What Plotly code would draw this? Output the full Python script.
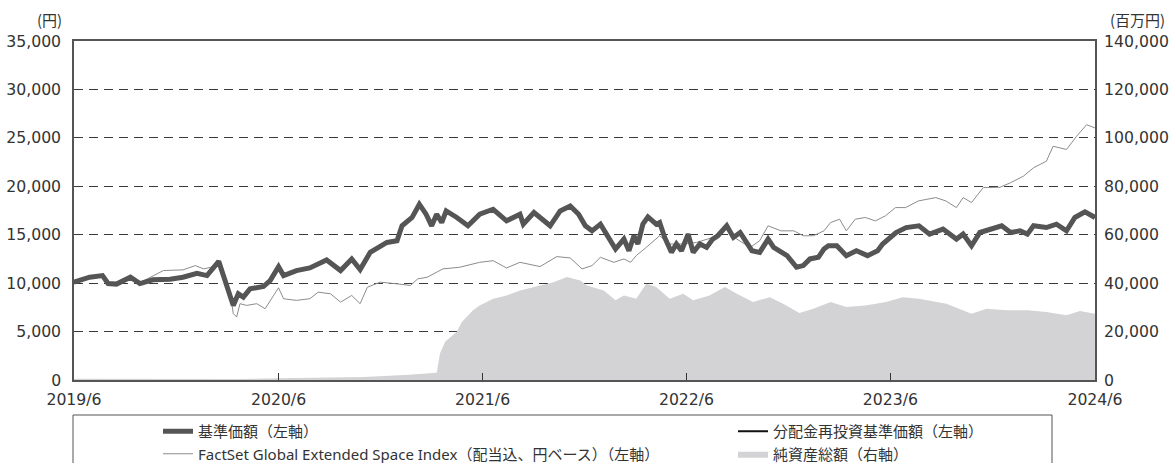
import plotly.graph_objects as go

# 基準価額 (= 分配金再投資基準価額, overlapping)
nav_dates = ["2019-06-01","2019-06-29","2019-07-22","2019-08-01","2019-08-16","2019-09-10","2019-09-27","2019-10-20","2019-11-20","2019-12-13",
"2020-01-07","2020-01-25","2020-02-15","2020-02-24","2020-03-03","2020-03-12","2020-03-21","2020-03-30","2020-04-11","2020-05-05",
"2020-05-17","2020-06-01","2020-06-10","2020-07-03","2020-07-27","2020-08-26","2020-09-20","2020-10-10","2020-10-25","2020-11-12",
"2020-12-12","2020-12-30","2021-01-08","2021-01-26","2021-02-08","2021-02-20","2021-03-02","2021-03-11","2021-03-20","2021-03-28",
"2021-04-16","2021-05-06","2021-05-27","2021-06-20","2021-07-14","2021-08-07","2021-08-13","2021-09-01","2021-09-30","2021-10-18",
"2021-11-05","2021-11-20","2021-12-02","2021-12-14","2021-12-29","2022-01-10","2022-01-25","2022-02-09","2022-02-18","2022-02-27",
"2022-03-06","2022-03-15","2022-03-24","2022-04-08","2022-04-14","2022-04-23","2022-05-05","2022-05-14","2022-05-23","2022-06-04",
"2022-06-13","2022-06-25","2022-07-07","2022-07-18","2022-07-27","2022-08-12","2022-08-24","2022-09-05","2022-09-26","2022-10-10",
"2022-10-25","2022-11-04","2022-11-28","2022-12-15","2022-12-27","2023-01-08","2023-01-23","2023-02-02","2023-02-10","2023-02-25",
"2023-03-14","2023-04-01","2023-04-21","2023-05-09","2023-05-18","2023-06-11","2023-06-29","2023-07-22","2023-08-10","2023-09-03",
"2023-09-27","2023-10-09","2023-10-24","2023-11-08","2023-12-02","2023-12-17","2024-01-02","2024-01-19","2024-02-01","2024-02-12",
"2024-03-06","2024-03-24","2024-04-11","2024-04-26","2024-05-14","2024-06-01"]
nav_values = [10100,10610,10780,9960,9900,10610,9960,10340,10400,10610,
11020,10780,12250,10610,9240,7700,8900,8560,9410,9650,
10270,11700,10780,11300,11570,12400,11300,12500,11400,13180,
14200,14380,15920,16780,18150,17120,15920,17120,16260,17460,
16780,15920,17120,17630,16430,17120,16090,17290,15920,17460,
17970,17120,15920,15400,16090,14890,13520,14550,13350,14890,
14040,16090,16840,16090,16260,14720,13180,14040,13350,15060,
13180,14040,13690,14550,14890,15920,14720,15230,13350,13180,
14550,13690,12840,11640,11810,12500,12670,13520,13860,13860,
12840,13350,12840,13350,14040,15230,15740,15920,15060,15580,
14550,15060,13860,15230,15580,15920,15230,15400,15060,15920,
15740,16090,15400,16780,17360,16780]

# FactSet Global Extended Space Index
bm_dates = ["2019-06-01","2019-06-29","2019-07-22","2019-08-01","2019-08-16","2019-09-10","2019-09-27","2019-10-15","2019-11-08","2019-12-13",
"2020-01-04","2020-01-19","2020-02-01","2020-02-15","2020-02-24","2020-03-06","2020-03-12","2020-03-18","2020-03-24","2020-04-05",
"2020-04-23","2020-05-08","2020-05-17","2020-06-01","2020-06-10","2020-07-03","2020-07-27","2020-08-11","2020-09-02","2020-09-20",
"2020-10-10","2020-10-25","2020-11-07","2020-11-30","2020-12-30","2021-01-23","2021-02-05","2021-02-22","2021-03-22","2021-04-21",
"2021-05-27","2021-06-20","2021-07-14","2021-08-07","2021-09-12","2021-10-12","2021-11-05","2021-11-26","2021-12-14","2021-12-29",
"2022-01-22","2022-02-09","2022-02-21","2022-03-03","2022-03-21","2022-04-14","2022-05-02","2022-05-26","2022-06-19","2022-07-18",
"2022-08-09","2022-08-30","2022-09-23","2022-10-10","2022-10-25","2022-11-17","2022-12-10","2022-12-27","2023-01-14","2023-02-02",
"2023-02-14","2023-03-02","2023-03-14","2023-03-30","2023-04-17","2023-05-05","2023-05-23","2023-06-10","2023-06-28","2023-07-21",
"2023-08-21","2023-09-08","2023-09-27","2023-10-09","2023-10-24","2023-11-14","2023-12-14","2024-01-02","2024-01-25","2024-02-12",
"2024-03-06","2024-03-18","2024-04-11","2024-04-29","2024-05-17","2024-06-01"]
bm_values = [10100,10550,10700,10000,9950,10600,10050,10610,11300,11370,
11810,11470,11640,12150,10960,9240,6850,6500,7880,7700,
7880,7360,8220,9520,8390,8220,8390,9070,8900,8040,
8730,7880,9580,10100,9930,9760,10440,10610,11470,11640,
12150,12320,11570,12150,11710,12740,12600,11470,11810,12670,
12150,12500,12150,12840,13690,14890,14040,14040,14200,14720,
15740,14550,13690,14380,15920,15400,15400,14890,14890,15400,
16260,16600,15400,16600,16780,16430,16950,17800,17800,18490,
18830,18490,17800,18830,18320,19860,19900,20370,21050,21910,
22590,24130,23800,25160,26360,26020]

# 純資産総額 (百万円)
na_dates = ["2019-06-01","2020-03-12","2020-06-01","2020-11-01","2021-01-20","2021-03-11","2021-03-17","2021-03-26","2021-04-16","2021-04-25",
"2021-05-15","2021-05-27","2021-06-20","2021-07-14","2021-08-07","2021-09-01","2021-10-06","2021-10-30","2021-11-23","2021-12-05",
"2022-01-04","2022-01-25","2022-02-09","2022-03-03","2022-03-21","2022-04-08","2022-05-02","2022-05-26","2022-06-13","2022-07-12",
"2022-08-09","2022-08-30","2022-09-28","2022-10-28","2022-11-21","2022-12-20","2023-01-14","2023-02-14","2023-03-14","2023-04-17",
"2023-05-24","2023-06-23","2023-07-22","2023-09-09","2023-10-24","2023-11-20","2023-12-25","2024-02-01","2024-03-06","2024-04-11",
"2024-05-05","2024-06-01"]
na_values = [500,400,700,1200,2200,3000,11000,15760,19900,24000,
28800,30800,33600,34900,37000,38400,40400,42500,41100,39000,
37000,32900,34900,33600,39700,38400,33600,35600,32900,34900,
38400,35600,32200,34200,31500,27700,29400,32200,30100,30800,
32200,34200,33600,31500,27400,29400,28800,28800,28100,26700,
28500,27400]

x_tick_vals = ["2019-06-01","2020-06-01","2021-06-01","2022-06-01","2023-06-01","2024-06-01"]
x_tick_text = ["2019/6","2020/6","2021/6","2022/6","2023/6","2024/6"]

FONT = "Noto Sans CJK JP"
NUMFONT = "DejaVu Sans"
LEGFONT = "Noto Sans, Noto Sans CJK JP"
TXT = "#333333"

PL, PR, PT, PB = 74, 1095, 41, 380
PW, PH = PR - PL, PB - PT

fig = go.Figure()
fig.add_trace(go.Scatter(x=na_dates, y=na_values, yaxis="y2", mode="lines",
    line=dict(width=0, color="#d3d3d5"), fill="tozeroy", fillcolor="#d3d3d5",
    name="純資産総額（右軸）", legend="legend2", legendrank=2))
fig.add_trace(go.Scatter(x=bm_dates, y=bm_values, mode="lines",
    line=dict(width=1, color="#8c8c8c"),
    name="FactSet Global Extended Space Index（配当込、円ベース）（左軸）", legend="legend", legendrank=2))
fig.add_trace(go.Scatter(x=nav_dates, y=nav_values, mode="lines",
    line=dict(width=2, color="#111111"),
    name="分配金再投資基準価額（左軸）", legend="legend2", legendrank=1))
fig.add_trace(go.Scatter(x=nav_dates, y=nav_values, mode="lines",
    line=dict(width=5, color="#555555"),
    name="基準価額（左軸）", legend="legend", legendrank=1))

legend_common = dict(xanchor="left", yanchor="top", orientation="v",
                     bgcolor="rgba(0,0,0,0)", borderwidth=0,
                     font=dict(family=LEGFONT, size=15, color=TXT),
                     tracegroupgap=0, traceorder="normal", itemwidth=30)

fig.update_layout(
    width=1171, height=463,
    margin=dict(l=PL, r=1171 - PR, t=PT, b=463 - PB, autoexpand=False),
    paper_bgcolor="white", plot_bgcolor="white",
    separators=".,",
    font=dict(family=FONT, size=16, color=TXT),
    xaxis=dict(type="date", range=["2019-06-01", "2024-06-01"],
               tickvals=x_tick_vals, ticktext=x_tick_text,
               ticks="inside", ticklen=7, tickcolor="#333333", tickwidth=1,
               showgrid=False, showline=True, linecolor="#555555", linewidth=1.5,
               mirror=True, zeroline=False, automargin=False, ticklabelstandoff=4,
               tickfont=dict(family=NUMFONT, size=15.7, color=TXT)),
    yaxis=dict(range=[0, 35000], dtick=5000, tickformat=",d",
               showgrid=True, gridcolor="#3a3a3a", gridwidth=1, griddash="9px,6px",
               showline=True, linecolor="#555555", linewidth=1.5, mirror=True,
               zeroline=False, ticks="", ticklabelstandoff=8, automargin=False,
               tickfont=dict(family=NUMFONT, size=15.7, color=TXT)),
    yaxis2=dict(range=[0, 140000], dtick=20000, tickformat=",d", overlaying="y",
                side="right", showgrid=False, zeroline=False, showline=False,
                ticks="", ticklabelstandoff=8, automargin=False,
                tickfont=dict(family=NUMFONT, size=15.7, color=TXT)),
    legend=dict(x=(158 - PL) / PW, y=(PB - 415) / PH, **legend_common),
    legend2=dict(x=(733 - PL) / PW, y=(PB - 415) / PH, **legend_common),
    showlegend=True,
)

fig.add_shape(type="rect", xref="paper", yref="paper",
              x0=(73 - PL) / PW, x1=(1052 - PL) / PW,
              y0=(PB - 415) / PH, y1=(PB - 475) / PH,
              line=dict(color="#555555", width=1), fillcolor="rgba(0,0,0,0)", layer="below")

fig.add_annotation(text="(円)", xref="paper", yref="paper", x=(49 - PL) / PW, y=(PB - 20) / PH,
                   showarrow=False, xanchor="center", yanchor="middle",
                   font=dict(family=FONT, size=15, color=TXT))
fig.add_annotation(text="(百万円)", xref="paper", yref="paper", x=(1137 - PL) / PW, y=(PB - 20) / PH,
                   showarrow=False, xanchor="center", yanchor="middle",
                   font=dict(family=FONT, size=15, color=TXT))

fig.write_html("out.html", config={"displayModeBar": False},
               post_script="document.body.style.margin='0px';document.body.style.overflow='hidden';")
